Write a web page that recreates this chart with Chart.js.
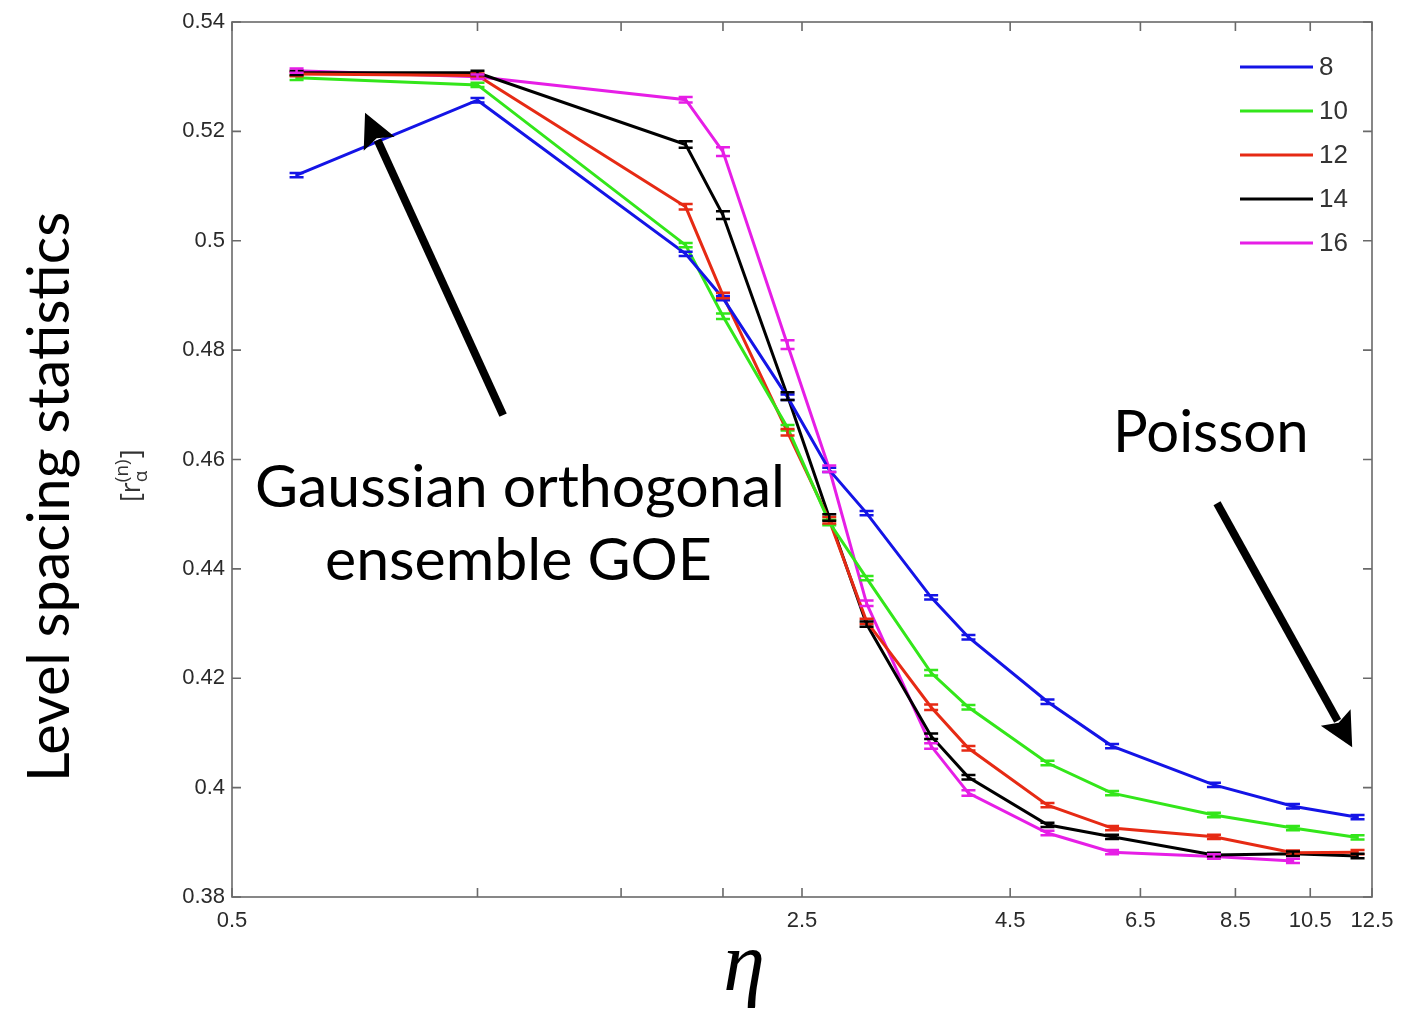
<!DOCTYPE html>
<html>
<head>
<meta charset="utf-8">
<script src="https://cdn.jsdelivr.net/npm/chart.js@4/dist/chart.umd.min.js"></script>
<style>
  html, body { margin: 0; padding: 0; background: #ffffff; }
  #wrap { width: 1406px; height: 1019px; position: relative; }
</style>
</head>
<body>
<div id="wrap"><canvas id="c" width="1406" height="1019"></canvas></div>
<script>
// ---------------- data ----------------
const etaValues = [0.6, 1, 1.8, 2, 2.4, 2.7, 3, 3.6, 4, 5, 6, 8, 10, 12];
const seriesNames = ['8', '10', '12', '14', '16'];
const seriesColors = ['#1414e6', '#33e61a', '#e62a14', '#000000', '#e61ee6'];

const r8  = [0.5120, 0.5257, 0.4976, 0.4895, 0.4714, 0.4581, 0.4502, 0.4348, 0.4275, 0.4157, 0.4076, 0.4005, 0.3966, 0.3946];
const r10 = [0.5298, 0.5285, 0.4992, 0.4862, 0.4658, 0.4485, 0.4383, 0.4210, 0.4147, 0.4045, 0.3990, 0.3950, 0.3926, 0.3909];
const r12 = [0.5305, 0.5302, 0.5062, 0.4900, 0.4650, 0.4489, 0.4304, 0.4147, 0.4072, 0.3968, 0.3926, 0.3910, 0.3881, 0.3882];
const r14 = [0.5307, 0.5307, 0.5176, 0.5047, 0.4716, 0.4494, 0.4299, 0.4094, 0.4019, 0.3932, 0.3910, 0.3877, 0.3879, 0.3875];
const r16 = [0.5311, 0.5300, 0.5258, 0.5163, 0.4810, 0.4583, 0.4337, 0.4076, 0.3990, 0.3917, 0.3882, 0.3874, 0.3866, null];

const e8  = [0.0004, 0.0004, 0.0004, 0.0004, 0.0005, 0.0004, 0.0004, 0.0004, 0.0004, 0.0004, 0.0004, 0.0004, 0.0004, 0.0004];
const e10 = [0.0004, 0.0004, 0.0004, 0.0005, 0.0005, 0.0005, 0.0004, 0.0005, 0.0004, 0.0004, 0.0004, 0.0004, 0.0004, 0.0004];
const e12 = [0.0004, 0.0004, 0.0005, 0.0005, 0.0006, 0.0006, 0.0005, 0.0005, 0.0004, 0.0004, 0.0004, 0.0004, 0.0004, 0.0004];
const e14 = [0.0004, 0.0004, 0.0006, 0.0007, 0.0007, 0.0006, 0.0005, 0.0005, 0.0004, 0.0004, 0.0004, 0.0004, 0.0004, 0.0004];
const e16 = [0.0004, 0.0004, 0.0005, 0.0008, 0.0008, 0.0006, 0.0005, 0.0005, 0.0005, 0.0004, 0.0004, 0.0004, 0.0004, null];

const xTickValues = [0.5, 1, 1.5, 2, 2.5, 4.5, 6.5, 8.5, 10.5, 12.5];
const xTickLabels = ['0.5', '', '', '', '2.5', '4.5', '6.5', '8.5', '10.5', '12.5'];
const yTickValues = [0.38, 0.40, 0.42, 0.44, 0.46, 0.48, 0.50, 0.52, 0.54];
const yTickLabels = ['0.38', '0.4', '0.42', '0.44', '0.46', '0.48', '0.5', '0.52', '0.54'];

const seriesValues = [r8, r10, r12, r14, r16];
const seriesErrors = [e8, e10, e12, e14, e16];

// annotation anchors in data coordinates (eta, r)
const goeArrow = { from: [1.075, 0.4681], to: [0.728, 0.5234] };
const poissonArrow = { from: [8.07, 0.4520], to: [11.82, 0.4074] };

// ---------------- build datasets ----------------
const datasets = seriesNames.map((name, i) => {
  const pts = [];
  etaValues.forEach((x, j) => {
    const v = seriesValues[i][j];
    if (v !== null) pts.push({ x: x, y: v, err: seriesErrors[i][j] });
  });
  return {
    label: name,
    data: pts,
    borderColor: seriesColors[i],
    backgroundColor: seriesColors[i],
    borderWidth: 3,
    pointRadius: 0,
    pointHoverRadius: 0,
    tension: 0,
    fill: false
  };
});

// ---------------- plugins ----------------
const framePlugin = {
  id: 'frame',
  afterDraw(chart) {
    const ctx = chart.ctx;
    const a = chart.chartArea;
    const xs = chart.scales.x, ys = chart.scales.y;
    ctx.save();
    ctx.strokeStyle = '#6a6a6a';
    ctx.lineWidth = 1.6;
    ctx.strokeRect(a.left, a.top, a.right - a.left, a.bottom - a.top);
    const tl = 9;
    ctx.beginPath();
    xTickValues.forEach(v => {
      const px = xs.getPixelForValue(v);
      ctx.moveTo(px, a.bottom); ctx.lineTo(px, a.bottom - tl);
      ctx.moveTo(px, a.top); ctx.lineTo(px, a.top + tl);
    });
    yTickValues.forEach(v => {
      const py = ys.getPixelForValue(v);
      ctx.moveTo(a.left, py); ctx.lineTo(a.left + tl, py);
      ctx.moveTo(a.right, py); ctx.lineTo(a.right - tl, py);
    });
    ctx.stroke();
    ctx.restore();
  }
};

const errorBarPlugin = {
  id: 'errorBars',
  afterDatasetsDraw(chart) {
    const ctx = chart.ctx;
    const xs = chart.scales.x, ys = chart.scales.y;
    ctx.save();
    chart.data.datasets.forEach(ds => {
      ctx.strokeStyle = ds.borderColor;
      ctx.lineWidth = 2.5;
      ds.data.forEach(p => {
        const px = xs.getPixelForValue(p.x);
        const pt = ys.getPixelForValue(p.y + p.err);
        const pb = ys.getPixelForValue(p.y - p.err);
        const hw = 7;
        ctx.beginPath();
        ctx.moveTo(px, pt); ctx.lineTo(px, pb);
        ctx.moveTo(px - hw, pt); ctx.lineTo(px + hw, pt);
        ctx.moveTo(px - hw, pb); ctx.lineTo(px + hw, pb);
        ctx.stroke();
      });
    });
    ctx.restore();
  }
};

function drawArrow(ctx, x1, y1, x2, y2, w, headLen, headW) {
  const ang = Math.atan2(y2 - y1, x2 - x1);
  const bx = x2 - headLen * Math.cos(ang);
  const by = y2 - headLen * Math.sin(ang);
  ctx.lineWidth = w;
  ctx.lineCap = 'butt';
  ctx.beginPath();
  ctx.moveTo(x1, y1); ctx.lineTo(bx + 4 * Math.cos(ang), by + 4 * Math.sin(ang));
  ctx.stroke();
  ctx.beginPath();
  ctx.moveTo(x2, y2);
  ctx.lineTo(bx + headW * Math.sin(ang), by - headW * Math.cos(ang));
  ctx.lineTo(bx + 6 * Math.cos(ang), by + 6 * Math.sin(ang));
  ctx.lineTo(bx - headW * Math.sin(ang), by + headW * Math.cos(ang));
  ctx.closePath();
  ctx.fill();
}

const annotationPlugin = {
  id: 'annotations',
  afterDraw(chart) {
    const ctx = chart.ctx;
    const xs = chart.scales.x, ys = chart.scales.y;
    ctx.save();
    ctx.fillStyle = '#000';
    ctx.strokeStyle = '#000';
    // arrows
    [goeArrow, poissonArrow].forEach(ar => {
      drawArrow(ctx,
        xs.getPixelForValue(ar.from[0]), ys.getPixelForValue(ar.from[1]),
        xs.getPixelForValue(ar.to[0]), ys.getPixelForValue(ar.to[1]),
        8, 34, 17);
    });
    // big annotation texts
    ctx.font = '59px Lato';
    ctx.textBaseline = 'alphabetic';
    ctx.textAlign = 'left';
    ctx.fillText('Gaussian orthogonal', 255, 507);
    ctx.fillText('ensemble GOE', 325, 580);
    ctx.font = '58px Lato';
    ctx.fillText('Poisson', 1113, 452);

    // y-axis title (rotated)
    ctx.save();
    ctx.translate(69, 497);
    ctx.rotate(-Math.PI / 2);
    ctx.textAlign = 'center';
    ctx.font = '57.5px Lato';
    ctx.fillText('Level spacing statistics', 0, 0);
    ctx.restore();

    // small y sub-label [r_α^(n)]
    ctx.save();
    ctx.translate(140, 502);
    ctx.rotate(-Math.PI / 2);
    ctx.fillStyle = '#333';
    ctx.textAlign = 'left';
    ctx.font = '27px "Open Sans"';
    let xx = 0;
    ctx.fillText('[r', xx, 0); xx += ctx.measureText('[r').width;
    ctx.font = '19px "Open Sans"';
    ctx.fillText('α', xx, 7);
    ctx.fillText('(n)', xx, -12);
    xx += ctx.measureText('(n)').width + 1;
    ctx.font = '27px "Open Sans"';
    ctx.fillText(']', xx, 0);
    ctx.restore();

    // x-axis title eta
    ctx.font = 'italic 84px "Liberation Serif"';
    ctx.textAlign = 'center';
    ctx.fillText('η', 744, 990);

    // legend
    ctx.textAlign = 'left';
    ctx.textBaseline = 'middle';
    ctx.font = '26px "Liberation Sans"';
    chart.data.datasets.forEach((ds, i) => {
      const y = 67 + i * 44;
      ctx.strokeStyle = ds.borderColor;
      ctx.lineWidth = 3;
      ctx.beginPath();
      ctx.moveTo(1240, y); ctx.lineTo(1313, y);
      ctx.stroke();
      ctx.fillStyle = '#333';
      ctx.fillText(ds.label, 1319, y + 1);
    });
    ctx.restore();
  }
};

// ---------------- chart ----------------
new Chart(document.getElementById('c'), {
  type: 'line',
  data: { datasets: datasets },
  options: {
    responsive: false,
    animation: false,
    events: [],
    layout: { padding: { top: 22, right: 34, left: 0, bottom: 0 } },
    plugins: { legend: { display: false }, tooltip: { enabled: false }, title: { display: false } },
    scales: {
      x: {
        type: 'logarithmic',
        min: 0.5,
        max: 12.5,
        afterBuildTicks: s => { s.ticks = xTickValues.map(v => ({ value: v })); },
        afterFit: s => { s.height = 1019 - 897; },
        grid: { display: false, drawTicks: false },
        border: { display: false },
        ticks: {
          autoSkip: false,
          maxRotation: 0,
          padding: 11,
          color: '#2a2a2a',
          font: { family: 'Liberation Sans', size: 22 },
          callback: (v, i) => xTickLabels[i]
        }
      },
      y: {
        type: 'linear',
        min: 0.38,
        max: 0.54,
        afterBuildTicks: s => { s.ticks = yTickValues.map(v => ({ value: v })); },
        afterFit: s => { s.width = 232; },
        grid: { display: false, drawTicks: false },
        border: { display: false },
        ticks: {
          autoSkip: false,
          padding: 7,
          color: '#2a2a2a',
          font: { family: 'Liberation Sans', size: 22 },
          callback: (v, i) => yTickLabels[i]
        }
      }
    }
  },
  plugins: [errorBarPlugin, framePlugin, annotationPlugin]
});
</script>
</body>
</html>
